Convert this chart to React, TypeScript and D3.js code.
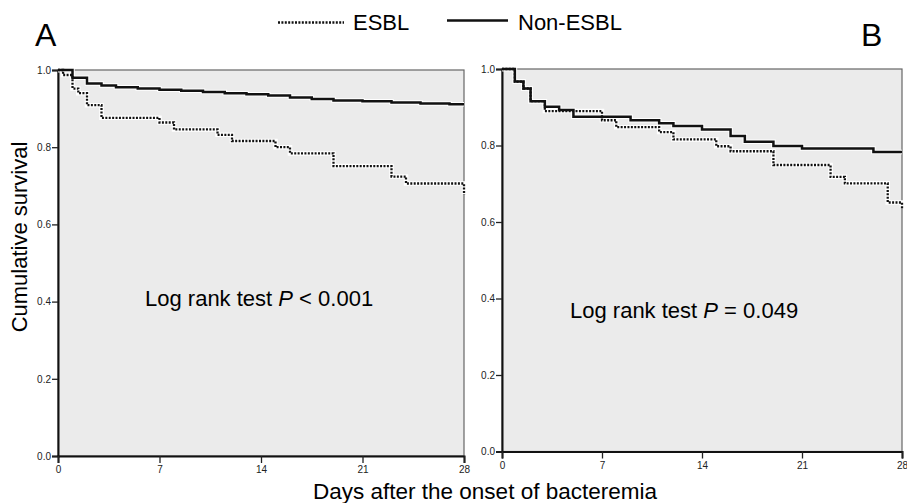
import { useRef, useEffect } from "react";
import * as d3 from "d3";

// x ticks (days) and y ticks (cumulative survival)
const dayTicks = [0, 7, 14, 21, 28];
const survivalTicks = [0, 0.2, 0.4, 0.6, 0.8, 1.0];

// Kaplan-Meier steps, [day, survival]
const esblA = [
  [0, 1.0], [0.35, 0.987], [1, 0.952], [1.4, 0.94], [2, 0.909], [3, 0.876],
  [7, 0.864], [8, 0.846], [11, 0.832], [12, 0.816], [15, 0.8], [16, 0.784],
  [19, 0.751], [23, 0.724], [24, 0.706], [28, 0.676],
];
const nonEsblA = [
  [0, 1.0], [1, 0.98], [2, 0.965], [3, 0.96], [4, 0.955], [5.5, 0.952],
  [7, 0.949], [8.5, 0.946], [10, 0.943], [11.5, 0.94], [13, 0.937],
  [14.5, 0.934], [16, 0.929], [17.5, 0.925], [19, 0.921], [21, 0.919],
  [23, 0.916], [25, 0.913], [27, 0.911], [28, 0.911],
];
const esblB = [
  [0, 1.0], [0.9, 0.967], [1.5, 0.949], [2, 0.916], [3, 0.89], [7, 0.866],
  [8, 0.848], [11, 0.835], [12, 0.816], [15, 0.798], [16, 0.785],
  [19, 0.749], [23, 0.718], [24, 0.701], [27, 0.651], [28, 0.636],
];
const nonEsblB = [
  [0, 1.0], [0.9, 0.967], [1.5, 0.949], [2, 0.916], [3, 0.901], [4, 0.893],
  [5, 0.875], [9, 0.866], [11, 0.858], [12, 0.851], [14, 0.842],
  [16, 0.825], [17, 0.81], [19, 0.799], [21, 0.792], [26, 0.783],
  [28, 0.783],
];

const panels = [
  { label: "A", esbl: esblA, non: nonEsblA, test: "< 0.001" },
  { label: "B", esbl: esblB, non: nonEsblB, test: "= 0.049" },
];

const FONT = "'Liberation Sans', Arial, sans-serif";

const App = () => {
  const svgRef = useRef(null);

  useEffect(() => {
    const svg = d3.select(svgRef.current);
    svg.selectAll("*").remove();

    const boxes = [
      { left: 58, right: 464, top: 70, bottom: 456, lx: 35, ly: 46, tx: 145, ty: 306 },
      { left: 502, right: 902, top: 69, bottom: 451.5, lx: 861, ly: 46, tx: 570, ty: 318 },
    ];

    panels.forEach((p, i) => {
      const b = boxes[i];
      const x = d3.scaleLinear().domain([0, 28]).range([b.left, b.right]);
      const y = d3.scaleLinear().domain([0, 1]).range([b.bottom, b.top]);
      const g = svg.append("g");

      // plot background + frame
      g.append("rect")
        .attr("x", b.left)
        .attr("y", b.top)
        .attr("width", b.right - b.left)
        .attr("height", b.bottom - b.top)
        .attr("fill", "#ebebeb")
        .attr("stroke", "#666")
        .attr("stroke-width", 1.2);

      // axes
      const yAxis = g
        .append("g")
        .attr("transform", `translate(${b.left},0)`)
        .call(
          d3.axisLeft(y).tickValues(survivalTicks).tickFormat(d3.format(".1f")).tickSize(6).tickPadding(1)
        );
      const xAxis = g
        .append("g")
        .attr("transform", `translate(0,${b.bottom})`)
        .call(d3.axisBottom(x).tickValues(dayTicks).tickSize(7).tickPadding(3));

      [yAxis, xAxis].forEach((ax) => {
        ax.select(".domain").attr("stroke", "#111").attr("stroke-width", 2);
        ax.selectAll(".tick line").attr("stroke", "#222").attr("stroke-width", 1.3);
        ax.selectAll(".tick text")
          .attr("fill", "#222")
          .style("font-family", FONT)
          .style("font-size", "10px");
      });

      const line = d3
        .line()
        .x((d) => x(d[0]))
        .y((d) => y(d[1]))
        .curve(d3.curveStepAfter);

      // curves with the white halo seen in the figure
      [p.non, p.esbl].forEach((data) => {
        g.append("path")
          .attr("d", line(data))
          .attr("fill", "none")
          .attr("stroke", "white")
          .attr("stroke-width", 4.5);
      });
      g.append("path")
        .attr("d", line(p.esbl))
        .attr("fill", "none")
        .attr("stroke", "#111")
        .attr("stroke-width", 2.3)
        .attr("stroke-dasharray", "2 1.4");
      g.append("path")
        .attr("d", line(p.non))
        .attr("fill", "none")
        .attr("stroke", "#111")
        .attr("stroke-width", 2.5);

      // panel letter
      svg.append("text")
        .attr("x", b.lx)
        .attr("y", b.ly)
        .style("font-family", FONT)
        .style("font-size", "32px")
        .text(p.label);

      // log rank annotation
      const t = svg.append("text")
        .attr("x", b.tx)
        .attr("y", b.ty)
        .style("font-family", FONT)
        .style("font-size", "22px");
      t.append("tspan").text("Log rank test ");
      t.append("tspan").style("font-style", "italic").text("P");
      t.append("tspan").text(" " + p.test);
    });

    // legend
    const legend = svg.append("g");
    legend.append("line")
      .attr("x1", 278).attr("x2", 344).attr("y1", 22.5).attr("y2", 22.5)
      .attr("stroke", "#111").attr("stroke-width", 2.3).attr("stroke-dasharray", "2 1.4");
    legend.append("text")
      .attr("x", 353).attr("y", 30)
      .style("font-family", FONT).style("font-size", "22px")
      .text("ESBL");
    legend.append("line")
      .attr("x1", 447).attr("x2", 508).attr("y1", 20.5).attr("y2", 20.5)
      .attr("stroke", "#111").attr("stroke-width", 2.5);
    legend.append("text")
      .attr("x", 518).attr("y", 30)
      .style("font-family", FONT).style("font-size", "22px")
      .text("Non-ESBL");

    // axis titles
    svg.append("text")
      .attr("transform", "translate(27,237) rotate(-90)")
      .attr("text-anchor", "middle")
      .style("font-family", FONT)
      .style("font-size", "22px")
      .text("Cumulative survival");
    svg.append("text")
      .attr("x", 485)
      .attr("y", 499)
      .attr("text-anchor", "middle")
      .style("font-family", FONT)
      .style("font-size", "22.5px")
      .text("Days after the onset of bacteremia");
  }, []);

  return (
    <svg
      ref={svgRef}
      width="907"
      height="503"
      style={{ position: "absolute", left: 0, top: 0, background: "white" }}
    />
  );
};

export default App;
